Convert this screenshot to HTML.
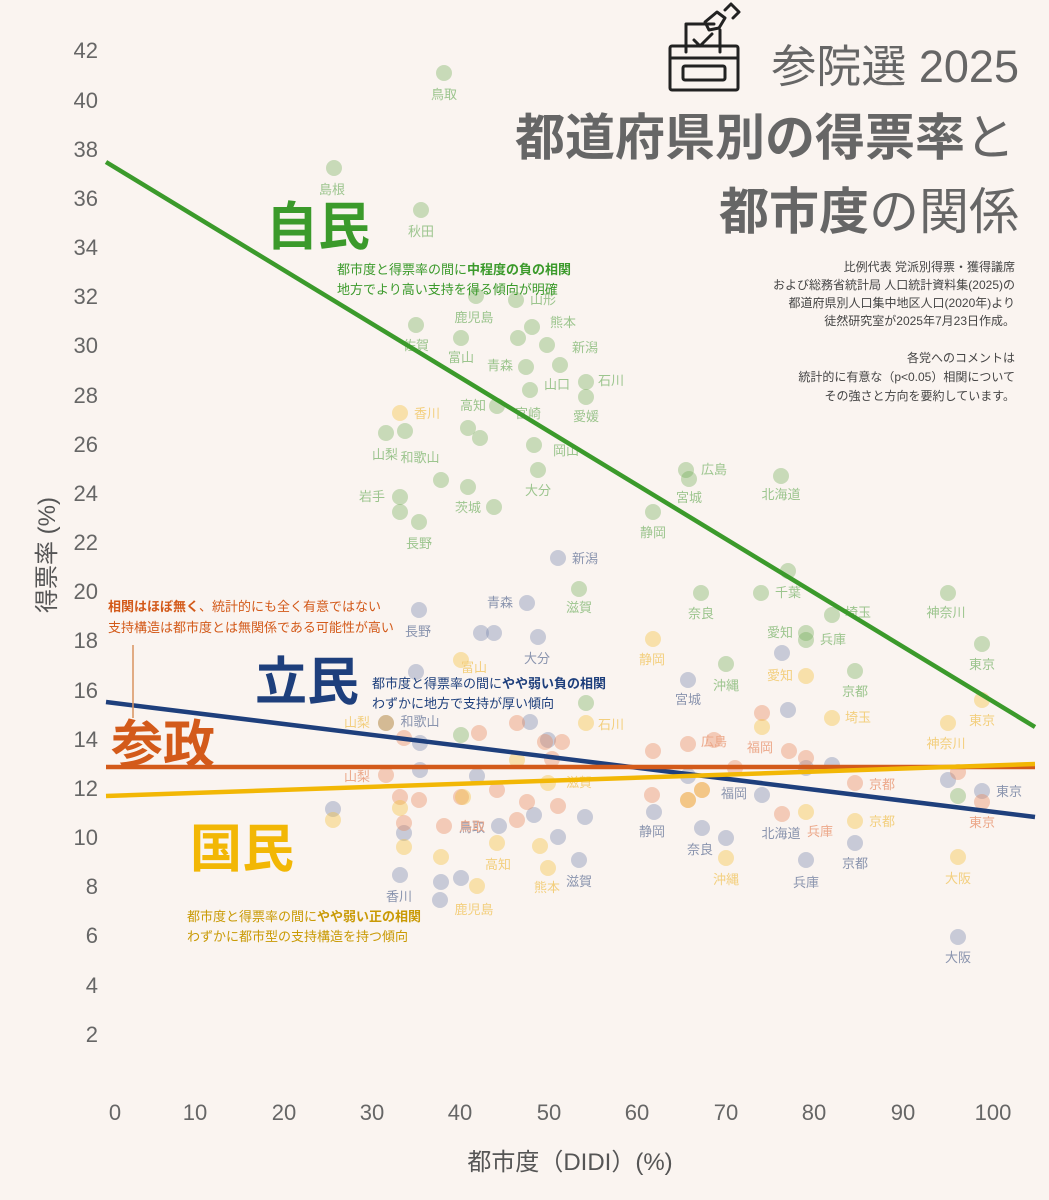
<!DOCTYPE html>
<html><head><meta charset="utf-8"><style>
html,body{margin:0;padding:0;background:#faf4f0;}
svg{display:block;font-family:"Liberation Sans","Noto Sans CJK JP",sans-serif;}
.g circle{fill:#6aaa50;opacity:.35}
.b circle{fill:#7587ad;opacity:.38}
.o circle{fill:#e8875a;opacity:.38}
.y circle{fill:#f5c036;opacity:.38}
.gl text{fill:#9cc58e;font-size:13px;text-anchor:middle}
.bl text{fill:#8a94ae;font-size:13px;text-anchor:middle}
.ol text{fill:#eca88a;font-size:13px;text-anchor:middle}
.yl text{fill:#f3cf7e;font-size:13px;text-anchor:middle}
.tk text{fill:#666;font-size:22px}
</style></head><body>
<svg width="1049" height="1200" viewBox="0 0 1049 1200">
<rect width="1049" height="1200" fill="#faf4f0"/>
<g class="tk" text-anchor="end">
<text x="98" y="58">42</text><text x="98" y="108">40</text><text x="98" y="157">38</text><text x="98" y="206">36</text><text x="98" y="255">34</text><text x="98" y="304">32</text><text x="98" y="353">30</text><text x="98" y="403">28</text><text x="98" y="452">26</text><text x="98" y="501">24</text><text x="98" y="550">22</text><text x="98" y="599">20</text><text x="98" y="648">18</text><text x="98" y="698">16</text><text x="98" y="747">14</text><text x="98" y="796">12</text><text x="98" y="845">10</text><text x="98" y="894">8</text><text x="98" y="943">6</text><text x="98" y="993">4</text><text x="98" y="1042">2</text>
</g>
<g class="tk" text-anchor="middle">
<text x="115" y="1120">0</text><text x="195" y="1120">10</text><text x="284" y="1120">20</text><text x="372" y="1120">30</text><text x="460" y="1120">40</text><text x="549" y="1120">50</text><text x="637" y="1120">60</text><text x="726" y="1120">70</text><text x="814" y="1120">80</text><text x="903" y="1120">90</text><text x="993" y="1120">100</text>
</g>
<text x="570" y="1170" text-anchor="middle" font-size="24" fill="#555">都市度（DIDI）(%)</text>
<text transform="translate(55,555) rotate(-90)" text-anchor="middle" font-size="24" fill="#555">得票率 (%)</text>

<g class="g">
<circle cx="444" cy="73" r="8"/><circle cx="334" cy="168" r="8"/><circle cx="421" cy="210" r="8"/><circle cx="476" cy="296" r="8"/><circle cx="516" cy="300" r="8"/><circle cx="416" cy="325" r="8"/><circle cx="461" cy="338" r="8"/><circle cx="532" cy="327" r="8"/><circle cx="518" cy="338" r="8"/><circle cx="547" cy="345" r="8"/><circle cx="526" cy="367" r="8"/><circle cx="560" cy="365" r="8"/><circle cx="586" cy="382" r="8"/><circle cx="586" cy="397" r="8"/><circle cx="497" cy="406" r="8"/><circle cx="530" cy="390" r="8"/><circle cx="468" cy="428" r="8"/><circle cx="480" cy="438" r="8"/><circle cx="386" cy="433" r="8"/><circle cx="405" cy="431" r="8"/><circle cx="534" cy="445" r="8"/><circle cx="441" cy="480" r="8"/><circle cx="468" cy="487" r="8"/><circle cx="538" cy="470" r="8"/><circle cx="494" cy="507" r="8"/><circle cx="400" cy="497" r="8"/><circle cx="400" cy="512" r="8"/><circle cx="419" cy="522" r="8"/><circle cx="653" cy="512" r="8"/><circle cx="686" cy="470" r="8"/><circle cx="689" cy="479" r="8"/><circle cx="781" cy="476" r="8"/><circle cx="579" cy="589" r="8"/><circle cx="701" cy="593" r="8"/><circle cx="761" cy="593" r="8"/><circle cx="788" cy="571" r="8"/><circle cx="806" cy="633" r="8"/><circle cx="806" cy="640" r="8"/><circle cx="832" cy="615" r="8"/><circle cx="948" cy="593" r="8"/><circle cx="982" cy="644" r="8"/><circle cx="855" cy="671" r="8"/><circle cx="726" cy="664" r="8"/><circle cx="958" cy="796" r="8"/><circle cx="386" cy="723" r="8"/><circle cx="461" cy="735" r="8"/><circle cx="586" cy="703" r="8"/>
</g>
<g class="b">
<circle cx="558" cy="558" r="8"/><circle cx="527" cy="603" r="8"/><circle cx="538" cy="637" r="8"/><circle cx="481" cy="633" r="8"/><circle cx="494" cy="633" r="8"/><circle cx="419" cy="610" r="8"/><circle cx="416" cy="672" r="8"/><circle cx="688" cy="680" r="8"/><circle cx="782" cy="653" r="8"/><circle cx="788" cy="710" r="8"/><circle cx="530" cy="722" r="8"/><circle cx="420" cy="743" r="8"/><circle cx="420" cy="770" r="8"/><circle cx="477" cy="776" r="8"/><circle cx="548" cy="740" r="8"/><circle cx="558" cy="837" r="8"/><circle cx="585" cy="817" r="8"/><circle cx="654" cy="812" r="8"/><circle cx="702" cy="828" r="8"/><circle cx="726" cy="838" r="8"/><circle cx="762" cy="795" r="8"/><circle cx="806" cy="768" r="8"/><circle cx="832" cy="765" r="8"/><circle cx="948" cy="780" r="8"/><circle cx="982" cy="791" r="8"/><circle cx="855" cy="843" r="8"/><circle cx="806" cy="860" r="8"/><circle cx="579" cy="860" r="8"/><circle cx="441" cy="882" r="8"/><circle cx="461" cy="878" r="8"/><circle cx="400" cy="875" r="8"/><circle cx="404" cy="833" r="8"/><circle cx="499" cy="826" r="8"/><circle cx="333" cy="809" r="8"/><circle cx="958" cy="937" r="8"/><circle cx="440" cy="900" r="8"/><circle cx="534" cy="815" r="8"/><circle cx="688" cy="776" r="8"/>
</g>
<g class="o">
<circle cx="386" cy="723" r="8"/><circle cx="404" cy="738" r="8"/><circle cx="479" cy="733" r="8"/><circle cx="517" cy="723" r="8"/><circle cx="545" cy="742" r="8"/><circle cx="562" cy="742" r="8"/><circle cx="552" cy="759" r="8"/><circle cx="653" cy="751" r="8"/><circle cx="688" cy="744" r="8"/><circle cx="714" cy="740" r="8"/><circle cx="762" cy="713" r="8"/><circle cx="789" cy="751" r="8"/><circle cx="806" cy="758" r="8"/><circle cx="855" cy="783" r="8"/><circle cx="958" cy="772" r="8"/><circle cx="386" cy="775" r="8"/><circle cx="400" cy="797" r="8"/><circle cx="419" cy="800" r="8"/><circle cx="461" cy="797" r="8"/><circle cx="497" cy="790" r="8"/><circle cx="527" cy="802" r="8"/><circle cx="558" cy="806" r="8"/><circle cx="688" cy="800" r="8"/><circle cx="702" cy="790" r="8"/><circle cx="782" cy="814" r="8"/><circle cx="404" cy="823" r="8"/><circle cx="444" cy="826" r="8"/><circle cx="517" cy="820" r="8"/><circle cx="652" cy="795" r="8"/><circle cx="982" cy="802" r="8"/><circle cx="735" cy="768" r="8"/>
</g>
<g class="y">
<circle cx="400" cy="413" r="8"/><circle cx="653" cy="639" r="8"/><circle cx="461" cy="660" r="8"/><circle cx="806" cy="676" r="8"/><circle cx="832" cy="718" r="8"/><circle cx="948" cy="723" r="8"/><circle cx="982" cy="700" r="8"/><circle cx="586" cy="723" r="8"/><circle cx="548" cy="783" r="8"/><circle cx="688" cy="800" r="8"/><circle cx="702" cy="790" r="8"/><circle cx="333" cy="820" r="8"/><circle cx="441" cy="857" r="8"/><circle cx="477" cy="886" r="8"/><circle cx="497" cy="843" r="8"/><circle cx="548" cy="868" r="8"/><circle cx="726" cy="858" r="8"/><circle cx="958" cy="857" r="8"/><circle cx="855" cy="821" r="8"/><circle cx="806" cy="812" r="8"/><circle cx="404" cy="847" r="8"/><circle cx="540" cy="846" r="8"/><circle cx="517" cy="760" r="8"/><circle cx="400" cy="808" r="8"/><circle cx="463" cy="797" r="8"/><circle cx="762" cy="727" r="8"/>
</g>
<g class="gl">
<text x="444" y="99">鳥取</text><text x="332" y="194">島根</text><text x="421" y="236">秋田</text><text x="543" y="304">山形</text><text x="474" y="322">鹿児島</text><text x="563" y="327">熊本</text><text x="585" y="352">新潟</text><text x="416" y="350">佐賀</text><text x="461" y="362">富山</text><text x="500" y="370">青森</text><text x="557" y="389">山口</text><text x="611" y="385">石川</text><text x="473" y="410">高知</text><text x="528" y="418">宮崎</text><text x="586" y="421">愛媛</text><text x="566" y="455">岡山</text><text x="385" y="459">山梨</text><text x="420" y="462">和歌山</text><text x="538" y="495">大分</text><text x="372" y="501">岩手</text><text x="468" y="512">茨城</text><text x="419" y="548">長野</text><text x="653" y="537">静岡</text><text x="714" y="474">広島</text><text x="689" y="502">宮城</text><text x="781" y="499">北海道</text><text x="579" y="612">滋賀</text><text x="701" y="618">奈良</text><text x="788" y="597">千葉</text><text x="780" y="637">愛知</text><text x="833" y="644">兵庫</text><text x="858" y="617">埼玉</text><text x="946" y="617">神奈川</text><text x="982" y="669">東京</text><text x="855" y="696">京都</text><text x="726" y="690">沖縄</text>
</g>
<g class="bl">
<text x="585" y="563">新潟</text><text x="500" y="607">青森</text><text x="418" y="636">長野</text><text x="537" y="663">大分</text><text x="688" y="704">宮城</text><text x="472" y="832">鳥取</text><text x="652" y="836">静岡</text><text x="700" y="854">奈良</text><text x="781" y="838">北海道</text><text x="734" y="798">福岡</text><text x="1009" y="796">東京</text><text x="806" y="887">兵庫</text><text x="855" y="868">京都</text><text x="579" y="886">滋賀</text><text x="399" y="901">香川</text><text x="958" y="962">大阪</text><text x="420" y="726">和歌山</text>
</g>
<g class="ol">
<text x="357" y="781">山梨</text><text x="714" y="746">広島</text><text x="760" y="752">福岡</text><text x="882" y="789">京都</text><text x="982" y="827">東京</text><text x="820" y="836">兵庫</text><text x="472" y="831">鳥取</text>
</g>
<g class="yl">
<text x="427" y="418">香川</text><text x="652" y="664">静岡</text><text x="474" y="672">富山</text><text x="780" y="680">愛知</text><text x="858" y="722">埼玉</text><text x="946" y="748">神奈川</text><text x="982" y="725">東京</text><text x="611" y="729">石川</text><text x="579" y="787">滋賀</text><text x="357" y="727">山梨</text><text x="547" y="892">熊本</text><text x="726" y="884">沖縄</text><text x="958" y="883">大阪</text><text x="882" y="826">京都</text><text x="474" y="914">鹿児島</text><text x="498" y="869">高知</text>
</g>

<line x1="106" y1="162" x2="1035" y2="727" stroke="#3b9a2b" stroke-width="4.5"/>
<line x1="106" y1="702" x2="1035" y2="817" stroke="#1e3f7c" stroke-width="4.5"/>
<line x1="106" y1="767" x2="1035" y2="767" stroke="#d35a1a" stroke-width="4.5"/>
<line x1="106" y1="796" x2="1035" y2="764" stroke="#f2b705" stroke-width="4.5"/>
<line x1="133" y1="645" x2="133" y2="718" stroke="#d9935f" stroke-width="1.5"/>

<text x="266" y="245" font-size="52" font-weight="bold" fill="#3b9a2b">自民</text>
<text x="255" y="700" font-size="52" font-weight="bold" fill="#1e3f7c">立民</text>
<text x="111" y="763" font-size="52" font-weight="bold" fill="#d35a1a">参政</text>
<text x="190" y="867" font-size="52" font-weight="bold" fill="#f2b705">国民</text>

<g font-size="13">
<text x="337" y="274" fill="#3b9a2b">都市度と得票率の間に<tspan font-weight="bold">中程度の負の相関</tspan></text>
<text x="337" y="294" fill="#3b9a2b">地方でより高い支持を得る傾向が明確</text>
<text x="108" y="611" fill="#d35a1a"><tspan font-weight="bold">相関はほぼ無く</tspan>、統計的にも全く有意ではない</text>
<text x="108" y="632" fill="#d35a1a">支持構造は都市度とは無関係である可能性が高い</text>
<text x="372" y="688" fill="#1e3f7c">都市度と得票率の間に<tspan font-weight="bold">やや弱い負の相関</tspan></text>
<text x="372" y="708" fill="#1e3f7c">わずかに地方で支持が厚い傾向</text>
<text x="187" y="921" fill="#c99a05">都市度と得票率の間に<tspan font-weight="bold">やや弱い正の相関</tspan></text>
<text x="187" y="941" fill="#c99a05">わずかに都市型の支持構造を持つ傾向</text>
</g>

<g fill="none" stroke="#222" stroke-width="3" stroke-linejoin="round" stroke-linecap="round">
<rect x="670" y="46" width="68" height="44" rx="2"/>
<line x1="670" y1="58" x2="738" y2="58"/>
<rect x="683" y="66" width="42" height="14" rx="2"/>
<path d="M686 52 V24 H714"/><path d="M720 30 V52"/>
<path d="M694 40 l6 6 l12 -12"/>
<path d="M705 22 l12 -10 l8 6 l-6 10 l-10 2 z"/>
<path d="M725 10 l6 -6 l8 8 l-6 6"/>
</g>

<g text-anchor="end" fill="#666">
<text x="1019" y="82" font-size="45">参院選 2025</text>
<text x="1015" y="155" font-size="50" font-weight="bold">都道府県別の得票率<tspan font-weight="normal">と</tspan></text>
<text x="1019" y="229" font-size="50" font-weight="bold">都市度<tspan font-weight="normal">の関係</tspan></text>
</g>
<g text-anchor="end" fill="#444" font-size="12">
<text x="1015" y="271">比例代表 党派別得票・獲得議席</text>
<text x="1015" y="289">および総務省統計局 人口統計資料集(2025)の</text>
<text x="1015" y="307">都道府県別人口集中地区人口(2020年)より</text>
<text x="1015" y="325">徒然研究室が2025年7月23日作成。</text>
<text x="1015" y="362">各党へのコメントは</text>
<text x="1015" y="381">統計的に有意な（p&lt;0.05）相関について</text>
<text x="1015" y="400">その強さと方向を要約しています。</text>
</g>
</svg>
</body></html>
